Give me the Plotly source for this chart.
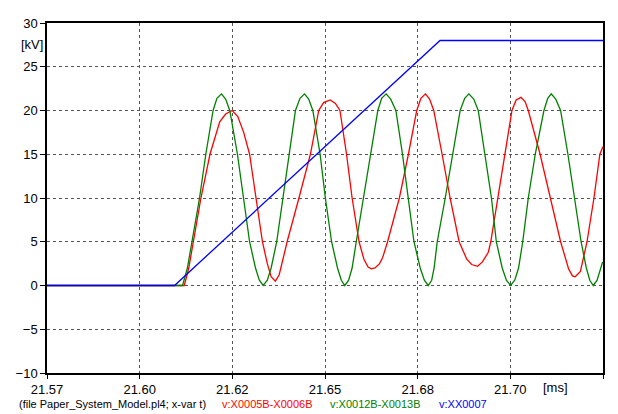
import numpy as np
import plotly.graph_objects as go

# ---- data (time in ms, voltage in kV) ----
t_red = [21.5700, 21.6095, 21.6108, 21.6121, 21.6143, 21.6169, 21.6197, 21.6214, 21.6233, 21.6249,
         21.6266, 21.6283, 21.6302, 21.6320, 21.6334, 21.6345, 21.6357, 21.6368, 21.6379, 21.6391,
         21.6425, 21.6458, 21.6482, 21.6496, 21.6515, 21.6530, 21.6543, 21.6562, 21.6578, 21.6598,
         21.6612, 21.6624, 21.6633, 21.6644, 21.6657, 21.6666, 21.6680, 21.6714, 21.6740, 21.6764,
         21.6776, 21.6789, 21.6801, 21.6813, 21.6837, 21.6860, 21.6886, 21.6908, 21.6922, 21.6939,
         21.6953, 21.6970, 21.6977, 21.6998, 21.7019, 21.7038, 21.7050, 21.7064, 21.7076, 21.7085,
         21.7119, 21.7149, 21.7178, 21.7201, 21.7212, 21.7220, 21.7235, 21.7254, 21.7274, 21.7291,
         21.7300]
v_red = [0, 0, 2.0, 5, 10, 15, 18.7, 19.6, 20.0, 19.3,
         17.5, 15, 10, 5, 2.5, 1.0, 0.5, 1.2, 3.0, 5,
         10, 15, 20, 20.9, 21.2, 20.8, 20, 15, 10, 5,
         3.0, 2.1, 1.9, 2.0, 2.5, 3.2, 5, 10, 15, 20,
         21.4, 21.9, 21.3, 20, 15, 10, 5, 3.0, 2.4, 2.2,
         2.7, 3.8, 5, 10, 15, 20, 21.2, 21.5, 21.0, 20,
         15, 10, 5, 1.9, 1.1, 1.0, 1.6, 5, 10, 15,
         15.9]

t_green = [21.5700, 21.6090, 21.6104, 21.6117, 21.6139, 21.6157, 21.6178, 21.6189, 21.6202, 21.6214,
           21.6226, 21.6248, 21.6266, 21.6283, 21.6300, 21.6311, 21.6322, 21.6334, 21.6345, 21.6361,
           21.6379, 21.6396, 21.6415, 21.6428, 21.6441, 21.6453, 21.6465, 21.6486, 21.6501, 21.6519,
           21.6536, 21.6547, 21.6557, 21.6568, 21.6578, 21.6590, 21.6611, 21.6631, 21.6652, 21.6663,
           21.6676, 21.6689, 21.6704, 21.6723, 21.6740, 21.6756, 21.6774, 21.6786, 21.6797, 21.6807,
           21.6814, 21.6823, 21.6846, 21.6868, 21.6889, 21.6902, 21.6914, 21.6928, 21.6941, 21.6960,
           21.6979, 21.6993, 21.7010, 21.7022, 21.7034, 21.7046, 21.7057, 21.7069, 21.7085, 21.7105,
           21.7130, 21.7141, 21.7151, 21.7164, 21.7178, 21.7199, 21.7218, 21.7237, 21.7252, 21.7262,
           21.7272, 21.7283, 21.7299]
v_green = [0, 0, 2.0, 5, 10, 15, 20, 21.4, 21.9, 21.3,
           20, 15, 10, 5, 2.0, 0.6, 0.0, 0.6, 2.0, 5,
           10, 15, 20, 21.4, 21.9, 21.3, 20, 15, 10, 5,
           2.0, 0.6, 0.0, 0.6, 2.0, 5, 10, 15, 20, 21.4,
           21.9, 21.3, 20, 15, 10, 5, 2.0, 0.6, 0.0, 0.6,
           2.0, 5, 10, 15, 20, 21.4, 21.9, 21.3, 20, 15,
           10, 5, 2.0, 0.6, 0.0, 0.6, 2.0, 5, 10, 15,
           20, 21.4, 21.9, 21.3, 20, 15, 10, 5, 2.0, 0.6,
           0.0, 0.6, 2.7]

t_blue = [21.5700, 21.6067, 21.6831, 21.7300]
v_blue = [0, 0, 28, 28]

x_range = [21.57, 21.73]
x_ticktext = ["21.57", "21.60", "21.62", "21.65", "21.68", "21.70", "21.73"]
y_ticks = [-10, -5, 0, 5, 10, 15, 20, 25, 30]

legend_items = [
    ("(file Paper_System_Model.pl4; x-var t)", "#000000"),
    ("v:X0005B-X0006B", "#ff0000"),
    ("v:X0012B-X0013B", "#008000"),
    ("v:XX0007", "#0000ff"),
]
legend_px = [10, 215, 325, 435]

# ---- figure ----
fig = go.Figure()
fig.add_trace(go.Scatter(x=t_red, y=v_red, mode="lines", line=dict(color="#ff0000", width=1.3)))
fig.add_trace(go.Scatter(x=t_green, y=v_green, mode="lines", line=dict(color="#008000", width=1.3)))
fig.add_trace(go.Scatter(x=t_blue, y=v_blue, mode="lines", line=dict(color="#0000ff", width=1.3)))

x_tickvals = list(np.linspace(x_range[0], x_range[1], len(x_ticktext)))

# page has an 8px body margin; compensate so plot area lands at x 40..603, y 16..373
OFF = 8
W, H = 618 - OFF, 414 - OFF
L, R, T, B = 40 - OFF, 15, 16 - OFF, 41
pw = W - L - R
ph = H - T - B

def px_x(px):
    return (px - OFF - L) / pw

def px_y(py):
    return (T + ph - (py - OFF)) / ph

font = "Liberation Sans, Arial, sans-serif"

fig.update_layout(
    width=W, height=H,
    margin=dict(l=L, r=R, t=T, b=B),
    paper_bgcolor="white", plot_bgcolor="white",
    showlegend=False,
    font=dict(family=font, size=13, color="#000"),
    xaxis=dict(range=x_range, tickvals=x_tickvals, ticktext=x_ticktext,
               showgrid=True, gridcolor="#555", griddash="dot", gridwidth=1,
               zeroline=False, showline=True, linecolor="#000", linewidth=1.5, mirror=True,
               ticks="outside", ticklen=4, tickcolor="#000", tickfont=dict(size=13)),
    yaxis=dict(range=[-10, 30], tickvals=y_ticks,
               showgrid=True, gridcolor="#555", griddash="dot", gridwidth=1,
               zeroline=False, showline=True, linecolor="#000", linewidth=1.5, mirror=True,
               ticks="outside", ticklen=5, tickcolor="#000", tickfont=dict(size=13)),
)

annotations = [
    dict(text="[kV]", xref="paper", yref="paper", x=px_x(38), y=px_y(38),
         xanchor="right", yanchor="middle", showarrow=False, font=dict(size=13)),
    dict(text="[ms]", xref="paper", yref="paper", x=px_x(555), y=px_y(388),
         xanchor="center", yanchor="middle", showarrow=False, font=dict(size=13)),
]
for (txt, col), px in zip(legend_items, legend_px):
    annotations.append(dict(text=txt, xref="paper", yref="paper", x=px_x(px), y=px_y(405),
                            xanchor="left", yanchor="middle", showarrow=False,
                            font=dict(size=11, color=col)))
fig.update_layout(annotations=annotations)

fig.write_html("out.html")
